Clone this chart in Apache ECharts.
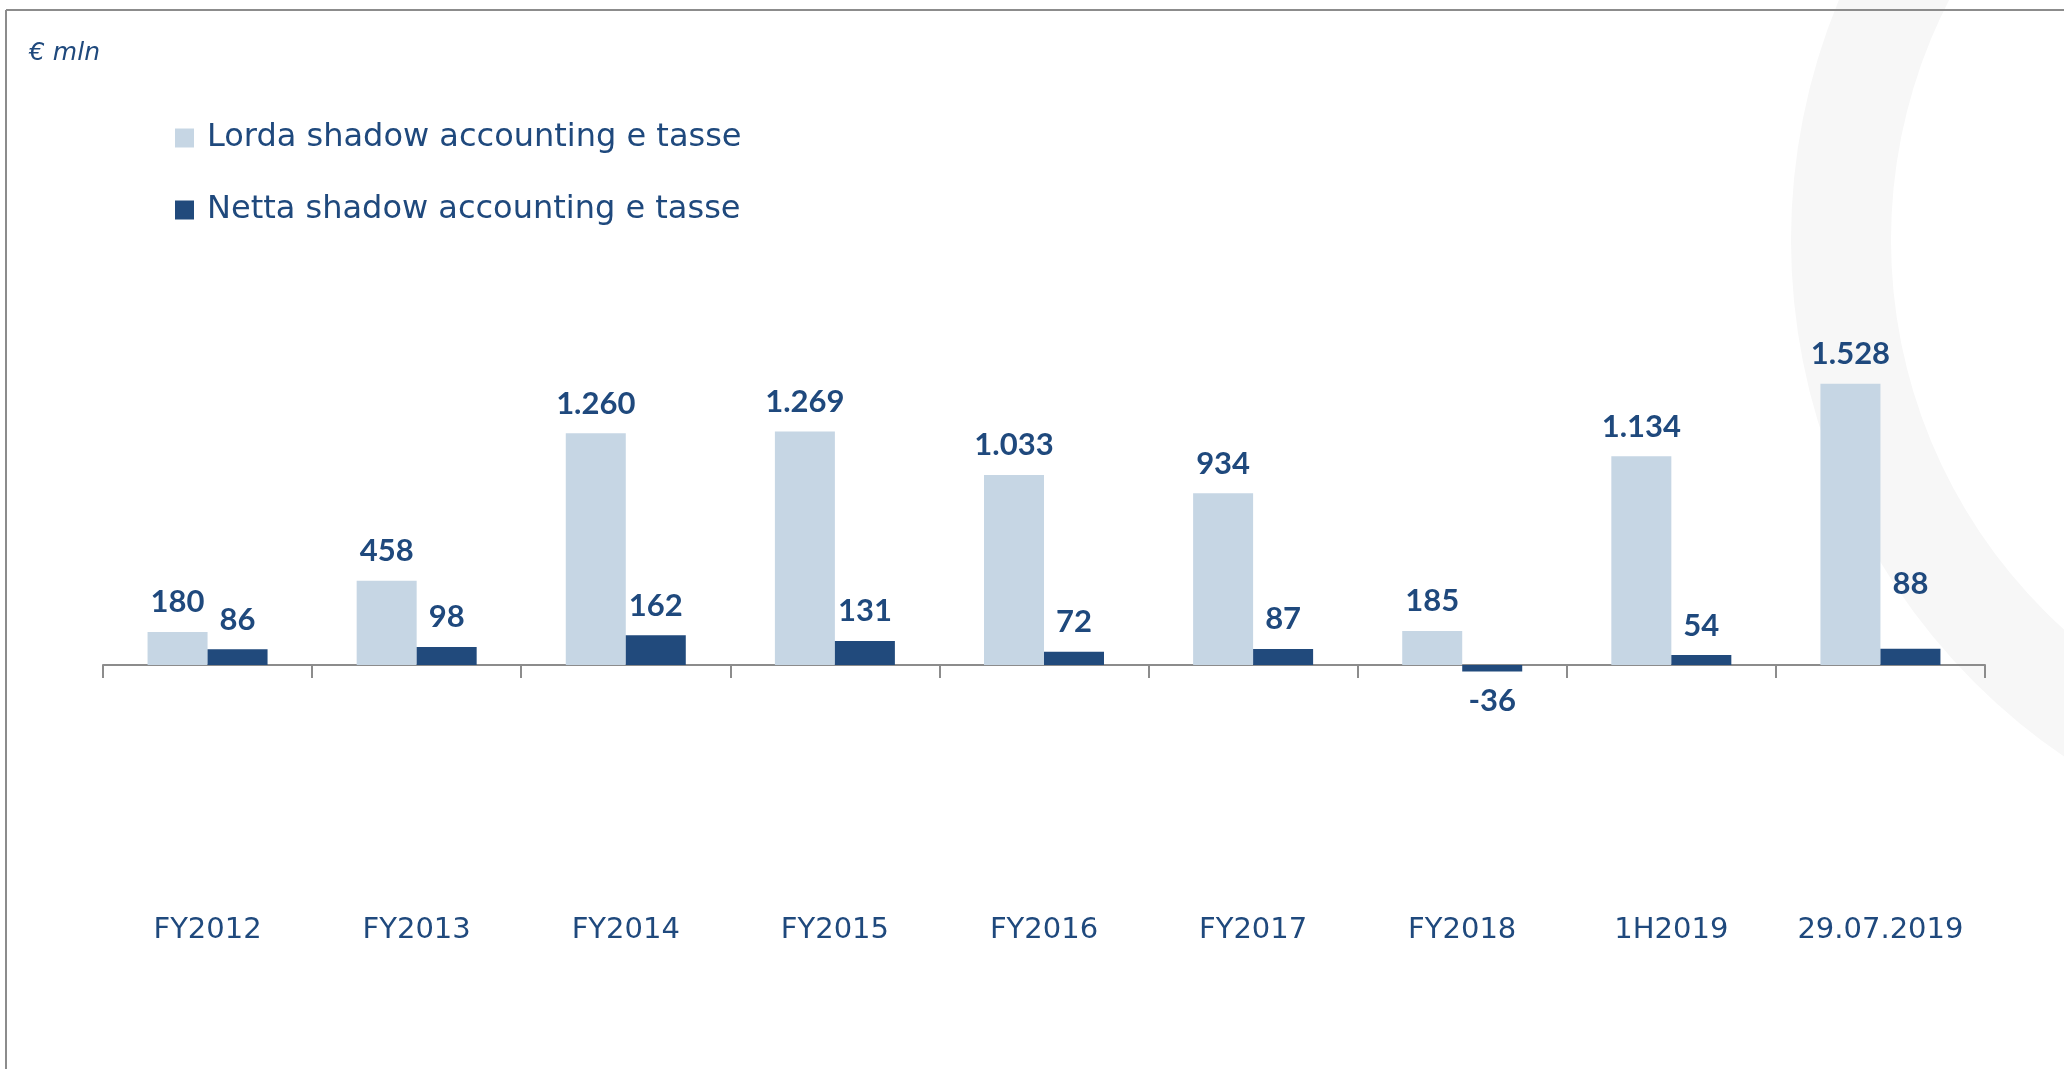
<!DOCTYPE html>
<html>
<head>
<meta charset="utf-8">
<script src="https://cdn.jsdelivr.net/npm/echarts@6/dist/echarts.min.js"></script>
<style>
html,body{margin:0;padding:0;background:#fff;overflow:hidden;}
#chart{width:2064px;height:1069px;}
</style>
</head>
<body>
<div id="chart"></div>
<script>
const categories = ['FY2012','FY2013','FY2014','FY2015','FY2016','FY2017','FY2018','1H2019','29.07.2019'];
const lordaValues = [180, 458, 1260, 1269, 1033, 934, 185, 1134, 1528];
const nettaValues = [86, 98, 162, 131, 72, 87, -36, 54, 88];
const seriesNames = ['Lorda shadow accounting e tasse', 'Netta shadow accounting e tasse'];
const unitLabel = '€ mln';

const NAVY = '#1F497D';
const LIGHT = '#C6D6E4';
const DARK = '#214A7C';
const GREY = '#8C8C8C';

function fmt(v) {
  const s = String(Math.abs(v)).replace(/\B(?=(\d{3})+(?!\d))/g, '.');
  return (v < 0 ? '-' : '') + s;
}

const labelBase = {
  show: true,
  fontFamily: 'Lato',
  fontWeight: 'bold',
  fontSize: 31,
  color: NAVY,
  distance: 14,
  formatter: p => fmt(p.value)
};

function buildData(values, extraOffsetIndex) {
  return values.map((v, i) => {
    const item = { value: v, label: { position: v < 0 ? 'bottom' : 'top' } };
    if (v < 0) item.label.distance = 14;
    if (i === extraOffsetIndex) item.label.offset = [0, -35];
    return item;
  });
}

const chart = echarts.init(document.getElementById('chart'), null, { renderer: 'canvas' });
chart.setOption({
  backgroundColor: '#ffffff',
  animation: false,
  graphic: [
    { type: 'ring', z: -10, shape: { cx: 2416, cy: 240, r: 625, r0: 525 }, style: { fill: '#F7F7F7' }, silent: true },
    { type: 'line', z: 10, shape: { x1: 6, y1: 10, x2: 2064, y2: 10 }, style: { stroke: GREY, lineWidth: 2 } },
    { type: 'line', z: 10, shape: { x1: 6, y1: 10, x2: 6, y2: 1069 }, style: { stroke: GREY, lineWidth: 2 } },
    { type: 'text', left: 29, top: 41, style: { text: unitLabel, fontFamily: 'DejaVu Sans', fontStyle: 'italic', fontSize: 25, fill: NAVY } }
  ],
  legend: {
    orient: 'vertical',
    left: 170,
    top: 117,
    itemWidth: 19,
    itemHeight: 19,
    itemGap: 40,
    icon: 'rect',
    selectedMode: false,
    textStyle: { fontFamily: 'DejaVu Sans', fontSize: 32, color: NAVY, padding: [0, 0, 0, 8] },
    data: seriesNames
  },
  grid: { left: 103, right: 79, top: 297, bottom: 220, containLabel: false, outerBoundsMode: 'none' },
  xAxis: {
    type: 'category',
    data: categories,
    axisLine: { onZero: true, lineStyle: { color: GREY, width: 2 } },
    axisTick: { show: true, length: 13, lineStyle: { color: GREY, width: 2 } },
    axisLabel: { interval: 0, margin: 67, fontFamily: 'DejaVu Sans', fontSize: 29, color: NAVY },
    splitLine: { show: false }
  },
  yAxis: {
    type: 'value',
    min: -1000,
    max: 2000,
    interval: 500,
    show: false,
    splitLine: { show: false }
  },
  series: [
    {
      name: seriesNames[0],
      type: 'bar',
      barWidth: 60,
      barGap: '0%',
      itemStyle: { color: LIGHT },
      label: labelBase,
      data: buildData(lordaValues, -1)
    },
    {
      name: seriesNames[1],
      type: 'bar',
      barWidth: 60,
      barGap: '0%',
      itemStyle: { color: DARK },
      label: labelBase,
      data: buildData(nettaValues, 8)
    }
  ]
});
</script>
</body>
</html>
